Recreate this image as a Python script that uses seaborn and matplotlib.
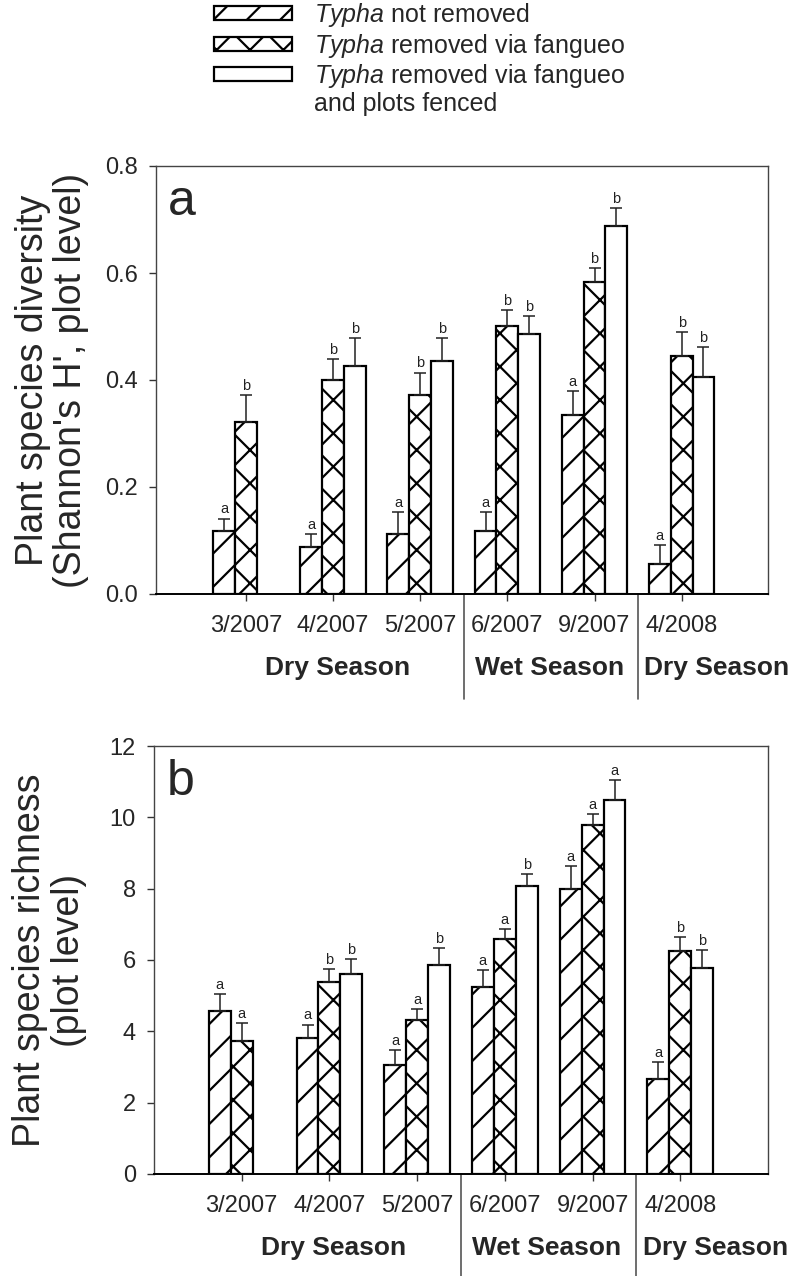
import numpy as np
import pandas as pd
import matplotlib
matplotlib.use("Agg")
import matplotlib.pyplot as plt
from matplotlib.patches import Patch
from matplotlib.container import BarContainer
from matplotlib.transforms import blended_transform_factory
import seaborn as sns

# ---- data -------------------------------------------------------------
dates = ["3/2007", "4/2007", "5/2007", "6/2007", "9/2007", "4/2008"]
treatments = ["not_removed", "fangueo", "fenced"]
legend_labels = [r"$\mathit{Typha}$ not removed",
                 r"$\mathit{Typha}$ removed via fangueo",
                 r"$\mathit{Typha}$ removed via fangueo",
                 "and plots fenced"]

# Shannon's H' (mean, SE)
div_not_removed = [0.118, 0.087, 0.112, 0.118, 0.335, 0.057]
div_not_removed_se = [0.023, 0.025, 0.041, 0.035, 0.045, 0.035]
div_fangueo = [0.321, 0.400, 0.372, 0.501, 0.583, 0.444]
div_fangueo_se = [0.051, 0.039, 0.042, 0.030, 0.026, 0.045]
div_fenced = [np.nan, 0.426, 0.436, 0.486, 0.688, 0.405]
div_fenced_se = [np.nan, 0.053, 0.043, 0.034, 0.034, 0.057]
div_letters = [list("aaaaaa"), list("bbbbbb"), list(" bbbbb")]

# species richness (mean, SE)
rich_not_removed = [4.58, 3.80, 3.05, 5.25, 7.98, 2.65]
rich_not_removed_se = [0.47, 0.39, 0.43, 0.47, 0.66, 0.50]
rich_fangueo = [3.73, 5.38, 4.32, 6.59, 9.79, 6.26]
rich_fangueo_se = [0.51, 0.37, 0.31, 0.28, 0.29, 0.39]
rich_fenced = [np.nan, 5.60, 5.85, 8.07, 10.49, 5.77]
rich_fenced_se = [np.nan, 0.42, 0.49, 0.35, 0.55, 0.50]
rich_letters = [list("aaaaaa"), list("abaaab"), list(" bbbab")]

seasons = ["Dry Season", "Wet Season", "Dry Season"]
season_centers = [1.05, 3.48, 5.40]
season_breaks = [2.5, 4.5]

# ---- style -------------------------------------------------------------
sns.set_style("ticks")
plt.rcParams["font.family"] = ["Liberation Sans", "DejaVu Sans"]
plt.rcParams["mathtext.fontset"] = "custom"
plt.rcParams["mathtext.rm"] = "Liberation Sans"
plt.rcParams["mathtext.it"] = "Liberation Sans:italic"
plt.rcParams["hatch.linewidth"] = 1.6

hatches = ["/", "x", ""]


def long_frame(means, ses):
    rows = []
    for t, m, s in zip(treatments, means, ses):
        for d, v, e in zip(dates, m, s):
            rows.append({"date": d, "treatment": t, "value": v, "se": e})
    return pd.DataFrame(rows)


def draw_panel(ax, df, letters, ylim, yticks, ylabel, tag, xlim):
    sns.barplot(data=df.dropna(), x="date", y="value", hue="treatment",
                order=dates, hue_order=treatments,
                palette=["white"] * 3, saturation=1, width=0.75,
                errorbar=None, edgecolor="black", linewidth=1.6,
                legend=False, ax=ax)
    bar_conts = [c for c in ax.containers if isinstance(c, BarContainer)]
    for k, (cont, h) in enumerate(zip(bar_conts, hatches)):
        sub = df[df["treatment"] == treatments[k]].reset_index(drop=True)
        xs, ys, es, labs = [], [], [], []
        for bar in cont:
            bar.set_hatch(h)
            bar.set_facecolor("white")
            bar.set_edgecolor("black")
            xc = bar.get_x() + bar.get_width() / 2
            idx = int(round(xc))
            val = bar.get_height()
            if not np.isfinite(val):
                continue
            xs.append(xc)
            ys.append(val)
            es.append(sub.loc[idx, "se"])
            labs.append(letters[k][idx])
        xs, ys, es = np.array(xs), np.array(ys), np.array(es)
        ax.errorbar(xs, ys, yerr=[np.zeros_like(es), es], fmt="none",
                    ecolor="#222222", elinewidth=1.1, capsize=4,
                    capthick=1.1, zorder=3)
        for x, top, lab in zip(xs, ys + es, labs):
            ax.annotate(lab, (x, top), xytext=(0, 1.5),
                        textcoords="offset points", ha="center",
                        va="bottom", fontsize=10.5, color="#222222")

    ax.set_xlim(*xlim)
    ax.set_ylim(*ylim)
    ax.set_yticks(yticks)
    ax.set_xlabel("")
    ax.set_ylabel(ylabel, fontsize=27, linespacing=1.1)
    ax.yaxis.label.set_va("center")
    ax.yaxis.set_label_coords(-0.17, 0.5)
    ax.tick_params(axis="both", direction="out", length=5, width=1,
                   labelsize=17, color="#333333")
    ax.tick_params(axis="y", pad=8)
    ax.tick_params(axis="x", pad=10)
    for sp in ax.spines.values():
        sp.set_visible(True)
        sp.set_linewidth(1.0)
        sp.set_color("#444444")
    ax.spines["bottom"].set_color("black")
    ax.spines["bottom"].set_linewidth(1.4)

    ax.text(0.02, 0.885, tag, transform=ax.transAxes, fontsize=36,
            va="baseline", ha="left")

    trans = blended_transform_factory(ax.transData, ax.transAxes)
    for xb in season_breaks:
        ax.plot([xb, xb], [0, -0.245], transform=trans, color="#555555",
                linewidth=1.2, clip_on=False)
    for name, xc in zip(seasons, season_centers):
        ax.text(xc, -0.173, name, transform=trans, ha="center",
                va="center", fontsize=19, fontweight="bold")
    return bar_conts


fig = plt.figure(figsize=(8, 12.76), dpi=100)
ax_a = fig.add_axes([156 / 800, 1 - 594 / 1276, 612 / 800, 428 / 1276])
ax_b = fig.add_axes([154 / 800, 1 - 1174 / 1276, 614 / 800, 428 / 1276])

df_div = long_frame([div_not_removed, div_fangueo, div_fenced],
                    [div_not_removed_se, div_fangueo_se, div_fenced_se])
df_rich = long_frame([rich_not_removed, rich_fangueo, rich_fenced],
                     [rich_not_removed_se, rich_fangueo_se, rich_fenced_se])

conts_a = draw_panel(ax_a, df_div, div_letters, (0, 0.8),
                     [0.0, 0.2, 0.4, 0.6, 0.8],
                     "Plant species diversity\n(Shannon's H', plot level)",
                     "a", (-1.03, 5.99))
ax_a.set_yticklabels([f"{v:.1f}" for v in [0.0, 0.2, 0.4, 0.6, 0.8]])
draw_panel(ax_b, df_rich, rich_letters, (0, 12), [0, 2, 4, 6, 8, 10, 12],
           "Plant species richness\n(plot level)", "b", (-1.0, 6.0))

handles = [c.patches[0] for c in conts_a]
handles.append(Patch(visible=False))
fig.legend(handles, legend_labels, loc="upper left",
           bbox_to_anchor=(214 / 800, 1 - 1 / 1276), frameon=False,
           fontsize=18, borderpad=0, borderaxespad=0, handlelength=3.1,
           handleheight=0.5, handletextpad=0.9, labelspacing=0.1)

fig.savefig("out.png", dpi=100)
